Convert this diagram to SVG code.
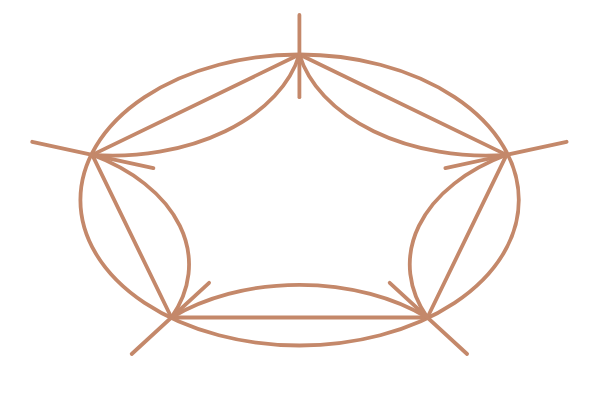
<svg xmlns="http://www.w3.org/2000/svg" width="600" height="400" viewBox="0 0 600 400">
  <style>
    .ln { fill: none; stroke: #C4886A; stroke-width: 3.8; stroke-linecap: round; stroke-linejoin: round; }
  </style>
  <rect width="600" height="400" fill="#ffffff"/>
  <g id="outer-ellipse">
    <ellipse class="ln" cx="299.6" cy="200" rx="219.2" ry="145.5"/>
  </g>
  <g id="pentagon">
    <polygon class="ln" points="299.4,54.5 506.55,154.84 427.42,317.51 171.38,317.51 92.25,154.84"/>
  </g>
  <g id="inner-arcs">
    <path class="ln" d="M299.4,54.5 A190.5,126 0 0 1 92.25,154.84"/>
    <path class="ln" d="M92.25,154.84 A190.5,126 0 0 1 171.38,317.51"/>
    <path class="ln" d="M171.38,317.51 A190.5,126 0 0 1 427.42,317.51"/>
    <path class="ln" d="M427.42,317.51 A190.5,126 0 0 1 506.55,154.84"/>
    <path class="ln" d="M506.55,154.84 A190.5,126 0 0 1 299.4,54.5"/>
  </g>
  <g id="radial-lines">
    <line class="ln" x1="299.4" y1="15" x2="299.4" y2="97.2"/>
    <line class="ln" x1="32.2" y1="141.8" x2="153.4" y2="168.1"/>
    <line class="ln" x1="566.6" y1="141.8" x2="445.4" y2="168.1"/>
    <line class="ln" x1="131.7" y1="354" x2="209.1" y2="282.8"/>
    <line class="ln" x1="467.1" y1="354" x2="389.7" y2="282.8"/>
  </g>
</svg>
